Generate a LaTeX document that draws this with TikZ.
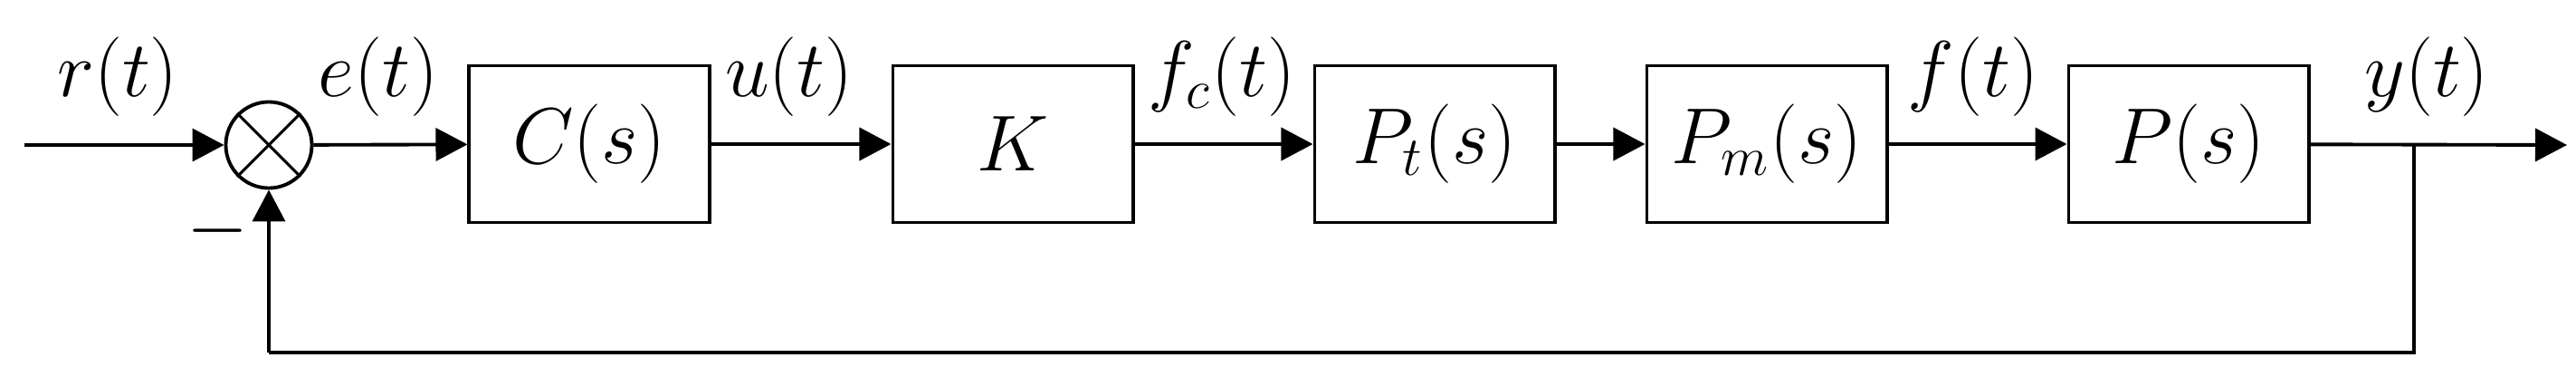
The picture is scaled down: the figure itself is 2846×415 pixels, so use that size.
\documentclass[tikz,border=0pt]{standalone}
\usetikzlibrary{arrows.meta}
\begin{document}
\begin{tikzpicture}[x=0.01cm,y=-0.01cm,
  blk/.style={draw,line width=1.1pt,minimum width=2.65cm,minimum height=1.73cm,inner sep=0,font=\fontsize{27}{30}\selectfont},
  lbl/.style={font=\fontsize{27}{30}\selectfont,inner sep=0},
  sig/.style={line width=1.1pt,-{Triangle[length=0.35cm,width=0.36cm]}},
  ln/.style={line width=1.1pt}]
\useasboundingbox (0,0) rectangle (2846,415);
\coordinate (in) at (27,160);
\node[draw,circle,line width=1.1pt,minimum size=0.95cm,inner sep=0] (sum) at (297,160) {};
\draw[line width=0.9pt] (sum.north west)--(sum.south east) (sum.north east)--(sum.south west);
\node[blk] (C) at (651,159) {$C(s)$};
\node[blk] (K) at (1119,159) {$K$};
\node[blk] (Pt) at (1585,159) {$P_t(s)$};
\node[blk] (Pm) at (1952,159) {$P_m(s)$};
\node[blk] (P) at (2418,159) {$P(s)$};
\coordinate (out) at (2836,160);
\coordinate (br) at (2667,160);
\coordinate (fb) at (2667,389);
\coordinate (fbl) at (297,389);
\draw[sig] (in)--(sum);
\draw[sig] (sum)--(C);
\draw[sig] (C)--(K);
\draw[sig] (K)--(Pt);
\draw[sig] (Pt)--(Pm);
\draw[sig] (Pm)--(P);
\draw[sig] (P)--(out);
\draw[ln] (br)--(fb)--(fbl);
\draw[sig] (fbl)--(sum);
\node[lbl] (lr) at (130,85) {$r(t)$};
\node[lbl] (le) at (418,85) {$e(t)$};
\node[lbl] (lu) at (872,85) {$u(t)$};
\node[lbl] (lf) at (1350,85) {$f_c(t)$};
\node[lbl] (lff) at (2180,85) {$f(t)$};
\node[lbl] (ly) at (2681,85) {$y(t)$};
\node[lbl] (mn) at (241,255) {$-$};
\end{tikzpicture}
\end{document}
